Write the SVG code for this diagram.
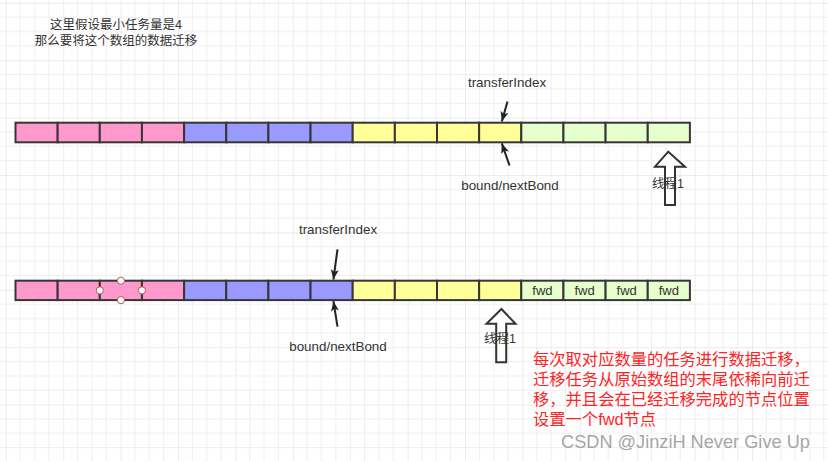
<svg xmlns="http://www.w3.org/2000/svg" width="828" height="461" viewBox="0 0 828 461">
<style>
text{font-family:"Liberation Sans","Noto Sans CJK SC",sans-serif;fill:#333}
.t{font-size:12.5px}
.lb{font-size:13.4px;text-anchor:middle}
.fw{font-size:13px;text-anchor:middle}
.cell{stroke:#363636;stroke-width:2}
.pk{fill:#FF99CC}.bl{fill:#9999FF}.ye{fill:#FFFF99}.gr{fill:#E6FFCC}
.ptr{stroke:#222;stroke-width:2;fill:none;marker-end:url(#ah)}
.blk{fill:#fff;stroke:#333;stroke-width:2;stroke-linejoin:miter}
.hd{fill:#fff;stroke:#b85450;stroke-width:1}
.red{font-size:16.3px;fill:#FF2424}
</style>
<defs>
<pattern id="grid" patternUnits="userSpaceOnUse" x="5.8" y="2.8" width="57.4" height="57.4">
<path d="M14.35 0V57.4M28.7 0V57.4M43.05 0V57.4M0 14.35H57.4M0 28.7H57.4M0 43.05H57.4" stroke="#efefef" stroke-width="1" fill="none"/>
<path d="M0 0V57.4M0 0H57.4" stroke="#e4e4e4" stroke-width="1.3" fill="none"/>
</pattern>
<marker id="ah" markerUnits="userSpaceOnUse" markerWidth="12" markerHeight="10" refX="10" refY="4" orient="auto">
<path d="M0 0L10 4L0 8L2.5 4Z" fill="#222"/>
</marker>
</defs>
<rect width="828" height="461" fill="#fff"/>
<rect width="828" height="461" fill="url(#grid)"/>

<g id="note-top">
<text class="t" x="116" y="29" text-anchor="middle">这里假设最小任务量是4</text>
<text class="t" x="116" y="45" text-anchor="middle">那么要将这个数组的数据迁移</text>
</g>

<g id="array1">
<rect class="cell pk" x="15.5" y="122.7" width="42.15" height="19.6"/>
<rect class="cell pk" x="57.65" y="122.7" width="42.15" height="19.6"/>
<rect class="cell pk" x="99.8" y="122.7" width="42.15" height="19.6"/>
<rect class="cell pk" x="141.95" y="122.7" width="42.15" height="19.6"/>
<rect class="cell bl" x="184.1" y="122.7" width="42.15" height="19.6"/>
<rect class="cell bl" x="226.25" y="122.7" width="42.15" height="19.6"/>
<rect class="cell bl" x="268.4" y="122.7" width="42.15" height="19.6"/>
<rect class="cell bl" x="310.55" y="122.7" width="42.15" height="19.6"/>
<rect class="cell ye" x="352.7" y="122.7" width="42.15" height="19.6"/>
<rect class="cell ye" x="394.85" y="122.7" width="42.15" height="19.6"/>
<rect class="cell ye" x="437" y="122.7" width="42.15" height="19.6"/>
<rect class="cell ye" x="479.15" y="122.7" width="42.15" height="19.6"/>
<rect class="cell gr" x="521.3" y="122.7" width="42.15" height="19.6"/>
<rect class="cell gr" x="563.45" y="122.7" width="42.15" height="19.6"/>
<rect class="cell gr" x="605.6" y="122.7" width="42.15" height="19.6"/>
<rect class="cell gr" x="647.75" y="122.7" width="42.15" height="19.6"/>
</g>

<g id="array2">
<rect class="cell pk" x="15.5" y="280.7" width="42.15" height="19.4"/>
<rect class="cell pk" x="57.65" y="280.7" width="42.15" height="19.4"/>
<rect class="cell pk" x="99.8" y="280.7" width="42.15" height="19.4"/>
<rect class="cell pk" x="141.95" y="280.7" width="42.15" height="19.4"/>
<rect class="cell bl" x="184.1" y="280.7" width="42.15" height="19.4"/>
<rect class="cell bl" x="226.25" y="280.7" width="42.15" height="19.4"/>
<rect class="cell bl" x="268.4" y="280.7" width="42.15" height="19.4"/>
<rect class="cell bl" x="310.55" y="280.7" width="42.15" height="19.4"/>
<rect class="cell ye" x="352.7" y="280.7" width="42.15" height="19.4"/>
<rect class="cell ye" x="394.85" y="280.7" width="42.15" height="19.4"/>
<rect class="cell ye" x="437" y="280.7" width="42.15" height="19.4"/>
<rect class="cell ye" x="479.15" y="280.7" width="42.15" height="19.4"/>
<rect class="cell gr" x="521.3" y="280.7" width="42.15" height="19.4"/>
<rect class="cell gr" x="563.45" y="280.7" width="42.15" height="19.4"/>
<rect class="cell gr" x="605.6" y="280.7" width="42.15" height="19.4"/>
<rect class="cell gr" x="647.75" y="280.7" width="42.15" height="19.4"/>
<text class="fw" x="542.4" y="295">fwd</text>
<text class="fw" x="584.5" y="295">fwd</text>
<text class="fw" x="626.7" y="295">fwd</text>
<text class="fw" x="668.8" y="295">fwd</text>
<circle class="hd" cx="99.8" cy="290.4" r="3.6"/>
<circle class="hd" cx="141.95" cy="290.4" r="3.6"/>
<circle class="hd" cx="120.9" cy="280.7" r="3.6"/>
<circle class="hd" cx="120.9" cy="300.1" r="3.6"/>
</g>

<g id="label-transfer1"><text class="lb" x="507" y="87">transferIndex</text></g>
<g id="label-bound1"><text class="lb" x="510" y="190">bound/nextBond</text></g>
<g id="label-transfer2"><text class="lb" x="338" y="234">transferIndex</text></g>
<g id="label-bound2"><text class="lb" x="338" y="351">bound/nextBond</text></g>

<g id="thread1">
<path class="blk" d="M668.3 151.7L685 166.7H675V205H665V166.7H655Z"/>
<text class="t" x="668" y="188" text-anchor="middle">线程1</text>
</g>
<g id="thread2">
<path class="blk" d="M501.5 309L515.5 323.8H506.2V362.3H496.2V323.8H486.5Z"/>
<text class="t" x="500" y="343" text-anchor="middle">线程1</text>
</g>

<g id="connectors">
<path class="ptr" d="M507.5 101.5L501.8 121.5"/>
<path class="ptr" d="M509.5 165.5L501.8 143.3"/>
<path class="ptr" d="M337.5 249.3L333.4 279.5"/>
<path class="ptr" d="M337.5 326.7L333.4 301.2"/>
</g>

<g id="note-red">
<text class="red" x="533" y="365">每次取对应数量的任务进行数据迁移，</text>
<text class="red" x="533" y="385">迁移任务从原始数组的末尾依稀向前迁</text>
<text class="red" x="533" y="405">移，并且会在已经迁移完成的节点位置</text>
<text class="red" x="533" y="425">设置一个fwd节点</text>
</g>

<g id="watermark">
<text x="561" y="448" font-size="18.2" style="fill:#a6a6a6">CSDN @JinziH Never Give Up</text>
</g>
</svg>
